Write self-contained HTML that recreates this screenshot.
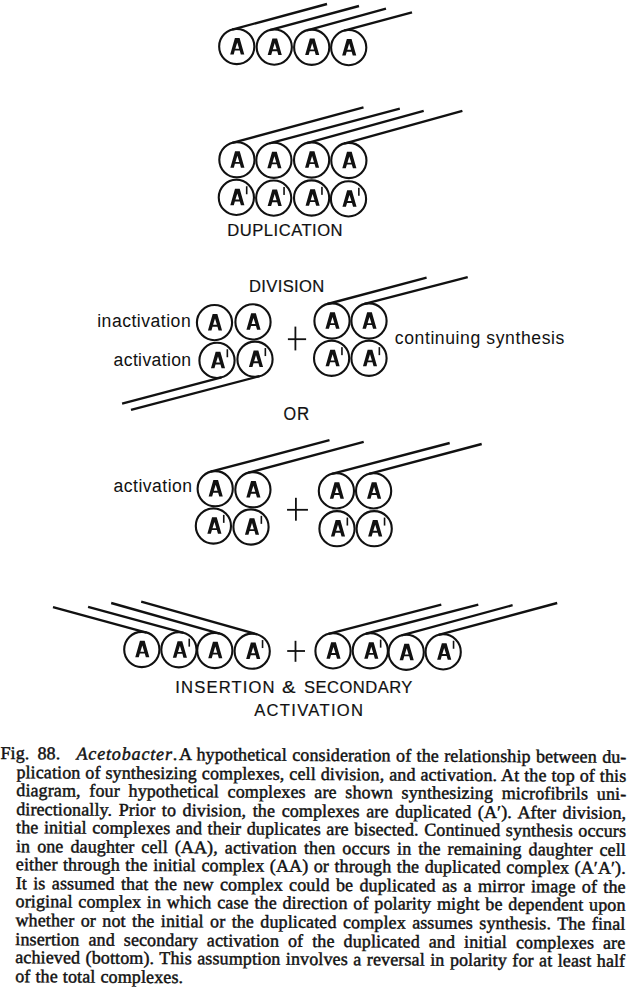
<!DOCTYPE html>
<html><head><meta charset="utf-8"><style>
html,body{margin:0;padding:0;background:#fff;}
body{width:644px;height:998px;position:relative;overflow:hidden;}
svg{position:absolute;left:0;top:0;}
#cap{position:absolute;left:0;top:0;width:644px;height:998px;transform:rotate(0.35deg);transform-origin:0px 758px;}
.ln{position:absolute;letter-spacing:0.12px;-webkit-text-stroke:0.45px #111;height:0;white-space:nowrap;font-family:"Liberation Serif",serif;font-size:18px;color:#111;text-align:justify;text-align-last:justify;line-height:0;}
.ln.last{text-align:left;text-align-last:left;}
.ln>span{}
</style></head><body>
<svg width="644" height="998" viewBox="0 0 644 998">
<g fill="none" stroke="#111" stroke-width="2.1"><circle cx="236.75" cy="46.55" r="17.6"/><circle cx="274.25" cy="47.10" r="17.6"/><circle cx="311.70" cy="47.25" r="17.6"/><circle cx="348.70" cy="47.60" r="17.6"/><circle cx="236.90" cy="159.80" r="17.6"/><circle cx="273.90" cy="160.30" r="17.6"/><circle cx="311.60" cy="160.00" r="17.6"/><circle cx="348.85" cy="160.50" r="17.6"/><circle cx="236.35" cy="197.40" r="17.6"/><circle cx="273.70" cy="198.10" r="17.6"/><circle cx="311.60" cy="198.00" r="17.6"/><circle cx="348.50" cy="198.90" r="17.6"/><circle cx="214.50" cy="322.60" r="17.6"/><circle cx="253.00" cy="321.90" r="17.6"/><circle cx="217.00" cy="360.40" r="17.6"/><circle cx="255.00" cy="359.20" r="17.6"/><circle cx="332.00" cy="321.00" r="17.6"/><circle cx="369.00" cy="321.00" r="17.6"/><circle cx="331.60" cy="358.30" r="17.6"/><circle cx="369.00" cy="358.30" r="17.6"/><circle cx="215.20" cy="488.70" r="17.6"/><circle cx="252.90" cy="489.70" r="17.6"/><circle cx="213.40" cy="526.00" r="17.6"/><circle cx="251.00" cy="527.00" r="17.6"/><circle cx="336.40" cy="490.90" r="17.6"/><circle cx="373.60" cy="490.90" r="17.6"/><circle cx="337.00" cy="528.70" r="17.6"/><circle cx="374.20" cy="528.70" r="17.6"/><circle cx="141.80" cy="649.50" r="17.6"/><circle cx="178.90" cy="649.80" r="17.6"/><circle cx="214.80" cy="650.50" r="17.6"/><circle cx="252.20" cy="651.20" r="17.6"/><circle cx="333.00" cy="650.90" r="17.6"/><circle cx="370.30" cy="650.80" r="17.6"/><circle cx="406.20" cy="652.30" r="17.6"/><circle cx="443.20" cy="651.90" r="17.6"/></g>
<g fill="none" stroke="#111" stroke-width="2.35" stroke-linecap="butt"><line x1="232.17" y1="29.56" x2="327.00" y2="4.00"/><line x1="269.66" y1="30.11" x2="359.00" y2="6.00"/><line x1="307.06" y1="30.27" x2="386.00" y2="8.70"/><line x1="344.14" y1="30.60" x2="412.00" y2="12.40"/><line x1="232.31" y1="142.81" x2="363.50" y2="107.40"/><line x1="269.39" y1="143.29" x2="399.80" y2="108.70"/><line x1="306.93" y1="143.03" x2="423.70" y2="110.90"/><line x1="344.17" y1="143.53" x2="462.40" y2="110.90"/><line x1="221.48" y1="377.42" x2="122.10" y2="403.60"/><line x1="259.45" y1="376.23" x2="131.00" y2="409.80"/><line x1="327.49" y1="303.99" x2="426.60" y2="277.70"/><line x1="364.56" y1="303.97" x2="467.70" y2="277.10"/><line x1="210.69" y1="471.69" x2="329.50" y2="440.20"/><line x1="248.35" y1="472.70" x2="363.70" y2="441.80"/><line x1="331.94" y1="473.88" x2="449.70" y2="443.00"/><line x1="369.09" y1="473.89" x2="481.70" y2="444.00"/><line x1="146.42" y1="632.52" x2="53.00" y2="607.10"/><line x1="183.53" y1="632.82" x2="88.10" y2="606.80"/><line x1="219.58" y1="633.56" x2="111.20" y2="603.00"/><line x1="256.98" y1="634.26" x2="141.20" y2="601.60"/><line x1="328.58" y1="633.86" x2="441.30" y2="604.60"/><line x1="365.88" y1="633.76" x2="478.30" y2="604.60"/><line x1="401.59" y1="635.31" x2="512.60" y2="605.20"/><line x1="438.63" y1="634.90" x2="557.20" y2="603.00"/></g>
<g fill="#111"><path fill-rule="evenodd" d="M230.20,54.40 L234.90,37.90 L239.60,37.90 L244.30,54.40 L240.80,54.40 L239.72,50.60 L234.78,50.60 L233.70,54.40 Z M235.35,48.70 L239.15,48.70 L237.25,42.55 Z"/><path fill-rule="evenodd" d="M267.70,54.95 L272.40,38.45 L277.10,38.45 L281.80,54.95 L278.30,54.95 L277.22,51.15 L272.28,51.15 L271.20,54.95 Z M272.85,49.25 L276.65,49.25 L274.75,43.10 Z"/><path fill-rule="evenodd" d="M305.15,55.10 L309.85,38.60 L314.55,38.60 L319.25,55.10 L315.75,55.10 L314.67,51.30 L309.73,51.30 L308.65,55.10 Z M310.30,49.40 L314.10,49.40 L312.20,43.25 Z"/><path fill-rule="evenodd" d="M342.15,55.45 L346.85,38.95 L351.55,38.95 L356.25,55.45 L352.75,55.45 L351.67,51.65 L346.73,51.65 L345.65,55.45 Z M347.30,49.75 L351.10,49.75 L349.20,43.60 Z"/><path fill-rule="evenodd" d="M230.35,167.65 L235.05,151.15 L239.75,151.15 L244.45,167.65 L240.95,167.65 L239.87,163.85 L234.93,163.85 L233.85,167.65 Z M235.50,161.95 L239.30,161.95 L237.40,155.80 Z"/><path fill-rule="evenodd" d="M267.35,168.15 L272.05,151.65 L276.75,151.65 L281.45,168.15 L277.95,168.15 L276.87,164.35 L271.93,164.35 L270.85,168.15 Z M272.50,162.45 L276.30,162.45 L274.40,156.30 Z"/><path fill-rule="evenodd" d="M305.05,167.85 L309.75,151.35 L314.45,151.35 L319.15,167.85 L315.65,167.85 L314.57,164.05 L309.63,164.05 L308.55,167.85 Z M310.20,162.15 L314.00,162.15 L312.10,156.00 Z"/><path fill-rule="evenodd" d="M342.30,168.35 L347.00,151.85 L351.70,151.85 L356.40,168.35 L352.90,168.35 L351.82,164.55 L346.88,164.55 L345.80,168.35 Z M347.45,162.65 L351.25,162.65 L349.35,156.50 Z"/><path fill-rule="evenodd" d="M230.30,205.25 L235.00,188.75 L239.70,188.75 L244.40,205.25 L240.90,205.25 L239.82,201.45 L234.88,201.45 L233.80,205.25 Z M235.45,199.55 L239.25,199.55 L237.35,193.40 Z"/><rect x="245.90" y="186.25" width="1.6" height="8"/><path fill-rule="evenodd" d="M267.65,205.95 L272.35,189.45 L277.05,189.45 L281.75,205.95 L278.25,205.95 L277.17,202.15 L272.23,202.15 L271.15,205.95 Z M272.80,200.25 L276.60,200.25 L274.70,194.10 Z"/><rect x="283.25" y="186.95" width="1.6" height="8"/><path fill-rule="evenodd" d="M305.55,205.85 L310.25,189.35 L314.95,189.35 L319.65,205.85 L316.15,205.85 L315.07,202.05 L310.13,202.05 L309.05,205.85 Z M310.70,200.15 L314.50,200.15 L312.60,194.00 Z"/><rect x="321.15" y="186.85" width="1.6" height="8"/><path fill-rule="evenodd" d="M342.45,206.75 L347.15,190.25 L351.85,190.25 L356.55,206.75 L353.05,206.75 L351.97,202.95 L347.03,202.95 L345.95,206.75 Z M347.60,201.05 L351.40,201.05 L349.50,194.90 Z"/><rect x="358.05" y="187.75" width="1.6" height="8"/><path fill-rule="evenodd" d="M207.95,330.45 L212.65,313.95 L217.35,313.95 L222.05,330.45 L218.55,330.45 L217.47,326.65 L212.53,326.65 L211.45,330.45 Z M213.10,324.75 L216.90,324.75 L215.00,318.60 Z"/><path fill-rule="evenodd" d="M246.45,329.75 L251.15,313.25 L255.85,313.25 L260.55,329.75 L257.05,329.75 L255.97,325.95 L251.03,325.95 L249.95,329.75 Z M251.60,324.05 L255.40,324.05 L253.50,317.90 Z"/><path fill-rule="evenodd" d="M210.95,368.25 L215.65,351.75 L220.35,351.75 L225.05,368.25 L221.55,368.25 L220.47,364.45 L215.53,364.45 L214.45,368.25 Z M216.10,362.55 L219.90,362.55 L218.00,356.40 Z"/><rect x="226.55" y="349.25" width="1.6" height="8"/><path fill-rule="evenodd" d="M248.95,367.05 L253.65,350.55 L258.35,350.55 L263.05,367.05 L259.55,367.05 L258.47,363.25 L253.53,363.25 L252.45,367.05 Z M254.10,361.35 L257.90,361.35 L256.00,355.20 Z"/><rect x="264.55" y="348.05" width="1.6" height="8"/><path fill-rule="evenodd" d="M325.45,328.85 L330.15,312.35 L334.85,312.35 L339.55,328.85 L336.05,328.85 L334.97,325.05 L330.03,325.05 L328.95,328.85 Z M330.60,323.15 L334.40,323.15 L332.50,317.00 Z"/><path fill-rule="evenodd" d="M362.45,328.85 L367.15,312.35 L371.85,312.35 L376.55,328.85 L373.05,328.85 L371.97,325.05 L367.03,325.05 L365.95,328.85 Z M367.60,323.15 L371.40,323.15 L369.50,317.00 Z"/><path fill-rule="evenodd" d="M325.55,366.15 L330.25,349.65 L334.95,349.65 L339.65,366.15 L336.15,366.15 L335.07,362.35 L330.13,362.35 L329.05,366.15 Z M330.70,360.45 L334.50,360.45 L332.60,354.30 Z"/><rect x="341.15" y="347.15" width="1.6" height="8"/><path fill-rule="evenodd" d="M362.95,366.15 L367.65,349.65 L372.35,349.65 L377.05,366.15 L373.55,366.15 L372.47,362.35 L367.53,362.35 L366.45,366.15 Z M368.10,360.45 L371.90,360.45 L370.00,354.30 Z"/><rect x="378.55" y="347.15" width="1.6" height="8"/><path fill-rule="evenodd" d="M208.65,496.55 L213.35,480.05 L218.05,480.05 L222.75,496.55 L219.25,496.55 L218.17,492.75 L213.23,492.75 L212.15,496.55 Z M213.80,490.85 L217.60,490.85 L215.70,484.70 Z"/><path fill-rule="evenodd" d="M246.35,497.55 L251.05,481.05 L255.75,481.05 L260.45,497.55 L256.95,497.55 L255.87,493.75 L250.93,493.75 L249.85,497.55 Z M251.50,491.85 L255.30,491.85 L253.40,485.70 Z"/><path fill-rule="evenodd" d="M207.35,533.85 L212.05,517.35 L216.75,517.35 L221.45,533.85 L217.95,533.85 L216.87,530.05 L211.93,530.05 L210.85,533.85 Z M212.50,528.15 L216.30,528.15 L214.40,522.00 Z"/><rect x="222.95" y="514.85" width="1.6" height="8"/><path fill-rule="evenodd" d="M244.95,534.85 L249.65,518.35 L254.35,518.35 L259.05,534.85 L255.55,534.85 L254.47,531.05 L249.53,531.05 L248.45,534.85 Z M250.10,529.15 L253.90,529.15 L252.00,523.00 Z"/><rect x="260.55" y="515.85" width="1.6" height="8"/><path fill-rule="evenodd" d="M329.85,498.75 L334.55,482.25 L339.25,482.25 L343.95,498.75 L340.45,498.75 L339.37,494.95 L334.43,494.95 L333.35,498.75 Z M335.00,493.05 L338.80,493.05 L336.90,486.90 Z"/><path fill-rule="evenodd" d="M367.05,498.75 L371.75,482.25 L376.45,482.25 L381.15,498.75 L377.65,498.75 L376.57,494.95 L371.63,494.95 L370.55,498.75 Z M372.20,493.05 L376.00,493.05 L374.10,486.90 Z"/><path fill-rule="evenodd" d="M330.95,536.55 L335.65,520.05 L340.35,520.05 L345.05,536.55 L341.55,536.55 L340.47,532.75 L335.53,532.75 L334.45,536.55 Z M336.10,530.85 L339.90,530.85 L338.00,524.70 Z"/><rect x="346.55" y="517.55" width="1.6" height="8"/><path fill-rule="evenodd" d="M368.15,536.55 L372.85,520.05 L377.55,520.05 L382.25,536.55 L378.75,536.55 L377.67,532.75 L372.73,532.75 L371.65,536.55 Z M373.30,530.85 L377.10,530.85 L375.20,524.70 Z"/><rect x="383.75" y="517.55" width="1.6" height="8"/><path fill-rule="evenodd" d="M135.25,657.35 L139.95,640.85 L144.65,640.85 L149.35,657.35 L145.85,657.35 L144.77,653.55 L139.83,653.55 L138.75,657.35 Z M140.40,651.65 L144.20,651.65 L142.30,645.50 Z"/><path fill-rule="evenodd" d="M172.85,657.65 L177.55,641.15 L182.25,641.15 L186.95,657.65 L183.45,657.65 L182.37,653.85 L177.43,653.85 L176.35,657.65 Z M178.00,651.95 L181.80,651.95 L179.90,645.80 Z"/><rect x="188.45" y="638.65" width="1.6" height="8"/><path fill-rule="evenodd" d="M208.25,658.35 L212.95,641.85 L217.65,641.85 L222.35,658.35 L218.85,658.35 L217.77,654.55 L212.83,654.55 L211.75,658.35 Z M213.40,652.65 L217.20,652.65 L215.30,646.50 Z"/><path fill-rule="evenodd" d="M246.15,659.05 L250.85,642.55 L255.55,642.55 L260.25,659.05 L256.75,659.05 L255.67,655.25 L250.73,655.25 L249.65,659.05 Z M251.30,653.35 L255.10,653.35 L253.20,647.20 Z"/><rect x="261.75" y="640.05" width="1.6" height="8"/><path fill-rule="evenodd" d="M326.45,658.75 L331.15,642.25 L335.85,642.25 L340.55,658.75 L337.05,658.75 L335.97,654.95 L331.03,654.95 L329.95,658.75 Z M331.60,653.05 L335.40,653.05 L333.50,646.90 Z"/><path fill-rule="evenodd" d="M364.25,658.65 L368.95,642.15 L373.65,642.15 L378.35,658.65 L374.85,658.65 L373.77,654.85 L368.83,654.85 L367.75,658.65 Z M369.40,652.95 L373.20,652.95 L371.30,646.80 Z"/><rect x="379.85" y="639.65" width="1.6" height="8"/><path fill-rule="evenodd" d="M399.65,660.15 L404.35,643.65 L409.05,643.65 L413.75,660.15 L410.25,660.15 L409.17,656.35 L404.23,656.35 L403.15,660.15 Z M404.80,654.45 L408.60,654.45 L406.70,648.30 Z"/><path fill-rule="evenodd" d="M437.15,659.75 L441.85,643.25 L446.55,643.25 L451.25,659.75 L447.75,659.75 L446.67,655.95 L441.73,655.95 L440.65,659.75 Z M442.30,654.05 L446.10,654.05 L444.20,647.90 Z"/><rect x="452.75" y="640.75" width="1.6" height="8"/><rect x="287.90" y="338.30" width="18.2" height="1.8"/><rect x="294.50" y="326.60" width="1.8" height="23.8"/><rect x="287.05" y="508.90" width="20.9" height="1.8"/><rect x="295.00" y="497.80" width="1.8" height="22.9"/><rect x="287.20" y="650.10" width="17.8" height="1.8"/><rect x="294.60" y="640.80" width="1.8" height="21"/></g>
<g fill="#111" stroke="#111" stroke-width="0.2" font-family="Liberation Sans, sans-serif"><text x="227.3" y="236.2" font-size="16.6" textLength="115.3" lengthAdjust="spacing">DUPLICATION</text><text x="248.9" y="292.2" font-size="16.6" textLength="75.4" lengthAdjust="spacing">DIVISION</text><text x="283.4" y="419.7" font-size="17.5" textLength="12.6" lengthAdjust="spacingAndGlyphs">O</text><text x="297.0" y="419.7" font-size="17.5" textLength="12.2" lengthAdjust="spacingAndGlyphs">R</text><text x="175.3" y="692.6" font-size="16.6" textLength="99.3" lengthAdjust="spacing">INSERTION</text><text x="282.0" y="692.6" font-size="16.6" textLength="13.5" lengthAdjust="spacingAndGlyphs">&amp;</text><text x="304.0" y="692.6" font-size="16.6" textLength="108.4" lengthAdjust="spacing">SECONDARY</text><text x="254.2" y="715.5" font-size="16.6" textLength="108.8" lengthAdjust="spacing">ACTIVATION</text></g>
<g fill="#111" stroke="#111" stroke-width="0" font-family="Liberation Sans, sans-serif"><text x="97.2" y="326.9" font-size="17.6" textLength="93.5" lengthAdjust="spacing">inactivation</text><text x="113.6" y="366.1" font-size="17.6" textLength="77.5" lengthAdjust="spacing">activation</text><text x="394.8" y="343.6" font-size="17.6" textLength="169.5" lengthAdjust="spacing">continuing synthesis</text><text x="113.6" y="491.6" font-size="17.6" textLength="78.5" lengthAdjust="spacing">activation</text></g>
</svg>
<div id="cap"><div class="ln last" style="left:0.5px;top:753.30px">Fig.</div><div class="ln last" style="left:37.5px;top:753.30px">88.</div><div class="ln last" style="left:76.5px;top:753.30px;letter-spacing:0.85px"><i>Acetobacter</i>.</div><div class="ln" style="left:179px;top:753.30px;width:447.5px">A hypothetical consideration of the relationship between du-</div><div class="ln" style="left:16.5px;top:771.82px;width:610.0px">plication of synthesizing complexes, cell division, and activation. At the top of this</div><div class="ln" style="left:16.5px;top:790.34px;width:610.0px">diagram, four hypothetical complexes are shown synthesizing microfibrils uni-</div><div class="ln" style="left:16.5px;top:808.86px;width:610.0px">directionally. Prior to division, the complexes are duplicated (A&#8242;). After division,</div><div class="ln" style="left:16.5px;top:827.38px;width:610.0px">the initial complexes and their duplicates are bisected. Continued synthesis occurs</div><div class="ln" style="left:16.5px;top:845.90px;width:610.0px">in one daughter cell (AA), activation then occurs in the remaining daughter cell</div><div class="ln" style="left:16.5px;top:864.42px;width:610.0px">either through the initial complex (AA) or through the duplicated complex (A&#8242;A&#8242;).</div><div class="ln" style="left:16.5px;top:882.94px;width:610.0px">It is assumed that the new complex could be duplicated as a mirror image of the</div><div class="ln" style="left:16.5px;top:901.46px;width:610.0px">original complex in which case the direction of polarity might be dependent upon</div><div class="ln" style="left:16.5px;top:919.98px;width:610.0px">whether or not the initial or the duplicated complex assumes synthesis. The final</div><div class="ln" style="left:16.5px;top:938.50px;width:610.0px">insertion and secondary activation of the duplicated and initial complexes are</div><div class="ln" style="left:16.5px;top:957.02px;width:610.0px">achieved (bottom). This assumption involves a reversal in polarity for at least half</div><div class="ln" style="left:16.5px;top:975.54px;width:168px">of the total complexes.</div></div>
</body></html>
